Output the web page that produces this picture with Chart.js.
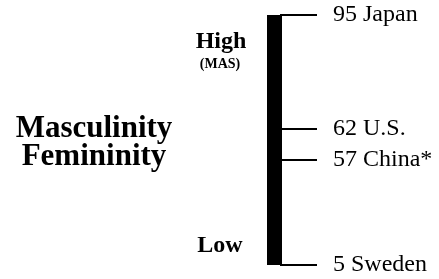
<!DOCTYPE html>
<html>
<head>
<meta charset="utf-8">
<script src="https://cdn.jsdelivr.net/npm/chart.js@4/dist/chart.umd.min.js"></script>
<style>
  html, body { margin: 0; padding: 0; background: #ffffff; }
  #wrap { width: 439px; height: 279px; position: relative; }
</style>
</head>
<body>
<div id="wrap"><canvas id="c" width="439" height="279"></canvas></div>
<script>
// ---- data ----
const countries = ['Japan', 'U.S.', 'China*', 'Sweden'];
const masScores = [95, 62, 57, 5];
const scaleRange = [5, 95];
const dimensionTitle = ['Masculinity', 'Femininity'];
const highLabel = 'High';
const highSubLabel = '(MAS)';
const lowLabel = 'Low';

// ---- schematic (non-linear) index scale, as in the original figure ----
const schematicStops = [[5, 0], [57, 0.42], [62, 0.544], [95, 1]];
class SchematicScale extends Chart.LinearScale {
  getPixelForValue(value) {
    const s = schematicStops;
    let frac = 0;
    if (value <= s[0][0]) frac = s[0][1];
    else if (value >= s[s.length - 1][0]) frac = s[s.length - 1][1];
    else {
      for (let i = 0; i < s.length - 1; i++) {
        if (value >= s[i][0] && value <= s[i + 1][0]) {
          const t = (value - s[i][0]) / (s[i + 1][0] - s[i][0]);
          frac = s[i][1] + t * (s[i + 1][1] - s[i][1]);
          break;
        }
      }
    }
    return this.getPixelForDecimal(frac);
  }
}
SchematicScale.id = 'schematic';
SchematicScale.defaults = Chart.LinearScale.defaults;
Chart.register(SchematicScale);

const labelFor = {};
masScores.forEach((v, i) => { labelFor[v] = v + ' ' + countries[i]; });

const textPlugin = {
  id: 'sideText',
  afterDraw(chart) {
    const ctx = chart.ctx;
    ctx.save();
    ctx.fillStyle = '#000';
    ctx.textAlign = 'center';
    ctx.textBaseline = 'alphabetic';
    ctx.font = 'bold 31px "Liberation Serif", "Times New Roman", serif';
    ctx.fillText(dimensionTitle[0], 94, 137);
    ctx.fillText(dimensionTitle[1], 94, 165);
    ctx.font = 'bold 24px "Liberation Serif", "Times New Roman", serif';
    ctx.fillText(highLabel, 221, 48);
    ctx.fillText(lowLabel, 220, 252);
    ctx.font = 'bold 14px "Liberation Serif", "Times New Roman", serif';
    ctx.fillText(highSubLabel, 220, 68);
    ctx.restore();
  }
};

new Chart(document.getElementById('c'), {
  type: 'bar',
  data: {
    labels: [''],
    datasets: [{
      data: [scaleRange],
      backgroundColor: '#000000',
      borderWidth: 0,
      borderSkipped: false,
      barPercentage: 1,
      categoryPercentage: 1
    }]
  },
  options: {
    responsive: false,
    animation: false,
    events: [],
    layout: { padding: { left: 267, right: 0, top: 15, bottom: 14 } },
    plugins: { legend: { display: false }, tooltip: { enabled: false }, title: { display: false } },
    scales: {
      x: { type: 'category', display: false },
      y: {
        type: 'schematic',
        position: 'right',
        min: scaleRange[0],
        max: scaleRange[1],
        border: { display: true, color: '#000', width: 2 },
        grid: { drawOnChartArea: false, drawTicks: true, tickLength: 36, color: '#000', lineWidth: 2 },
        ticks: {
          autoSkip: false,
          padding: 16,
          color: '#000',
          font: { family: '"Liberation Serif", "Times New Roman", serif', size: 24 },
          callback: (v) => labelFor[v] !== undefined ? labelFor[v] : ''
        },
        afterBuildTicks: (scale) => {
          scale.ticks = masScores.slice().sort((a, b) => a - b).map(v => ({ value: v }));
        },
        afterFit: (scale) => {
          scale.width = 158;
          scale.paddingTop = 0;
          scale.paddingBottom = 0;
        }
      }
    }
  },
  plugins: [textPlugin]
});
</script>
</body>
</html>
